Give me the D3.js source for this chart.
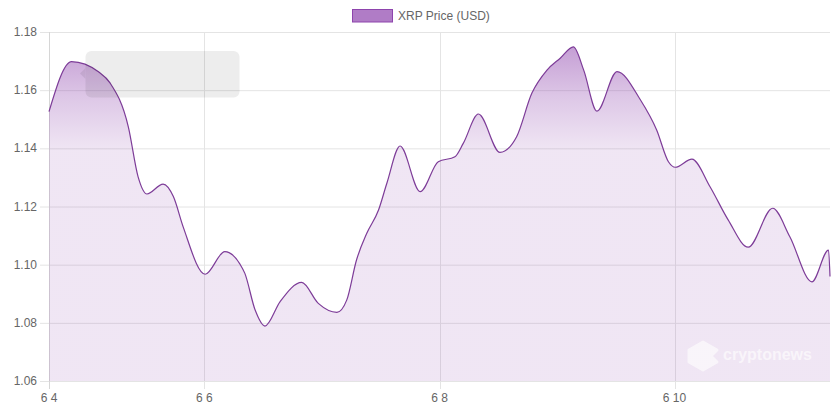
<!DOCTYPE html>
<html lang="en">
<head>
<meta charset="UTF-8">
<title>XRP Price (USD)</title>
<script src="https://d3js.org/d3.v7.min.js"></script>
<style>
  body { margin: 0; background: #fff; font-family: 'Liberation Sans', Arial, sans-serif; }
  svg { display: block; }
  text { font-family: 'Liberation Sans', Arial, sans-serif; }
</style>
</head>
<body>
<div id="chart"></div>
<script>
// hours after the first sample (6/4 16:15)
const hours = [0, 4.6, 10.1, 12.5, 16.2, 18.2, 20.0, 23.3, 25.4, 27.4,
  31.9, 35.9, 39.0, 40.0, 42.1, 44.1, 47.2, 51.6, 55.0, 58.8,
  60.8, 62.8, 64.9, 67.3, 69.0, 71.7, 75.8, 79.5, 82.9, 84.6,
  87.7, 92.1, 95.5, 98.6, 101.7, 104.4, 107.1, 109.2, 111.9, 116.0,
  120.8, 124.1, 126.5, 127.9, 131.3, 135.0, 138.7, 142.8, 147.8, 151.3,
  155.8, 159.2, 159.5];
const prices = [1.1526, 1.1698, 1.1663, 1.1624, 1.1474, 1.1302, 1.1243, 1.1277, 1.1234, 1.1130,
  1.0967, 1.1045, 1.1002, 1.0970, 1.0844, 1.0789, 1.0873, 1.0939, 1.0867, 1.0836,
  1.0878, 1.1016, 1.1108, 1.1188, 1.1280, 1.1408, 1.1251, 1.1354, 1.1371, 1.1417,
  1.1518, 1.1386, 1.1440, 1.1589, 1.1669, 1.1710, 1.1749, 1.1669, 1.1528, 1.1664,
  1.1566, 1.1463, 1.1354, 1.1335, 1.1363, 1.1268, 1.1154, 1.1060, 1.1194, 1.1096,
  1.0941, 1.1050, 1.0959];
const xTickDays = [null, 6, 8, 10]; // first tick = first sample
const xTickLabels = ["6 4", "6 6", "6 8", "6 10"];
const yTicks = [1.06, 1.08, 1.10, 1.12, 1.14, 1.16, 1.18];
const seriesName = "XRP Price (USD)";

const start = new Date(2024, 5, 4, 16, 15);
const toDate = h => new Date(start.getTime() + h * 3600 * 1000);
const data = hours.map((h, i) => ({ t: toDate(h), v: prices[i] }));

const width = 836, height = 419;
const margin = { top: 32, right: 6, bottom: 38, left: 49 };

const svg = d3.select("#chart").append("svg")
  .attr("width", width)
  .attr("height", height);

const x = d3.scaleTime()
  .domain([toDate(hours[0]), toDate(hours[hours.length - 1])])
  .range([margin.left, width - margin.right]);

const y = d3.scaleLinear()
  .domain([1.06, 1.18])
  .range([height - margin.bottom, margin.top]);

const gridColor = "#e4e4e4";

// horizontal grid + y labels
svg.append("g")
  .selectAll("line")
  .data(yTicks)
  .join("line")
  .attr("x1", margin.left - 9)
  .attr("x2", width - margin.right)
  .attr("y1", d => y(d) + 0.5)
  .attr("y2", d => y(d) + 0.5)
  .attr("stroke", gridColor);

svg.append("g")
  .selectAll("text")
  .data(yTicks)
  .join("text")
  .attr("x", margin.left - 12)
  .attr("y", d => y(d) + 4)
  .attr("text-anchor", "end")
  .attr("font-size", 12)
  .attr("fill", "#666")
  .text(d => d3.format(".2f")(d));

// vertical grid + x labels
const xTicks = xTickDays.map(d => d === null ? start : new Date(2024, 5, d));
svg.append("g")
  .selectAll("line")
  .data(xTicks)
  .join("line")
  .attr("x1", d => Math.round(x(d)) + 0.5)
  .attr("x2", d => Math.round(x(d)) + 0.5)
  .attr("y1", margin.top)
  .attr("y2", height - margin.bottom + 8)
  .attr("stroke", (d, i) => i === 0 ? "#d6d6d6" : gridColor);

svg.append("g")
  .selectAll("text")
  .data(xTicks)
  .join("text")
  .attr("x", d => x(d))
  .attr("y", height - margin.bottom + 21)
  .attr("text-anchor", "middle")
  .attr("font-size", 12)
  .attr("fill", "#666")
  .text((d, i) => xTickLabels[i]);

// gradient fill
const defs = svg.append("defs");
const grad = defs.append("linearGradient")
  .attr("id", "fillGrad")
  .attr("gradientUnits", "userSpaceOnUse")
  .attr("x1", 0).attr("x2", 0)
  .attr("y1", margin.top).attr("y2", 150);
grad.append("stop").attr("offset", "0%").attr("stop-color", "#8e44ad").attr("stop-opacity", 0.58);
grad.append("stop").attr("offset", "55%").attr("stop-color", "#8e44ad").attr("stop-opacity", 0.3);
grad.append("stop").attr("offset", "100%").attr("stop-color", "#8e44ad").attr("stop-opacity", 0.135);

const curve = d3.curveMonotoneX;

const area = d3.area()
  .x(d => x(d.t))
  .y0(y(1.06))
  .y1(d => y(d.v))
  .curve(curve);

const line = d3.line()
  .x(d => x(d.t))
  .y(d => y(d.v))
  .curve(curve);

svg.append("path")
  .datum(data)
  .attr("d", area)
  .attr("fill", "url(#fillGrad)");

svg.append("path")
  .datum(data)
  .attr("d", line)
  .attr("fill", "none")
  .attr("stroke", "#7d3c98")
  .attr("stroke-width", 1.2);

// faded tooltip left over on the picture
const tip = svg.append("g").attr("opacity", 0.065);
tip.append("rect")
  .attr("x", 85.5).attr("y", 51)
  .attr("width", 154).attr("height", 46.5)
  .attr("rx", 6)
  .attr("fill", "#000");
tip.append("path")
  .attr("d", "M85.5,68 L80,73.5 L85.5,79 Z")
  .attr("fill", "#000");

// watermark
const wm = svg.append("g").attr("opacity", 0.6).attr("fill", "#fff");
wm.append("path")
  .attr("d", "M703,342 L717,350 L711,356 L717,362 L703,370 L689,362 L689,350 Z")
  .attr("stroke", "#fff")
  .attr("stroke-width", 3)
  .attr("stroke-linejoin", "round");
wm.append("text")
  .attr("x", 723)
  .attr("y", 360)
  .attr("font-size", 16)
  .attr("font-weight", "bold")
  .text("cryptonews");

// legend
const legend = svg.append("g");
legend.append("rect")
  .attr("x", 352.5).attr("y", 9.5)
  .attr("width", 40).attr("height", 12.5)
  .attr("fill", "#b07cc6")
  .attr("stroke", "#8e44ad")
  .attr("stroke-width", 1);
legend.append("text")
  .attr("x", 398)
  .attr("y", 20)
  .attr("font-size", 12)
  .attr("fill", "#666")
  .text(seriesName);
</script>
</body>
</html>
